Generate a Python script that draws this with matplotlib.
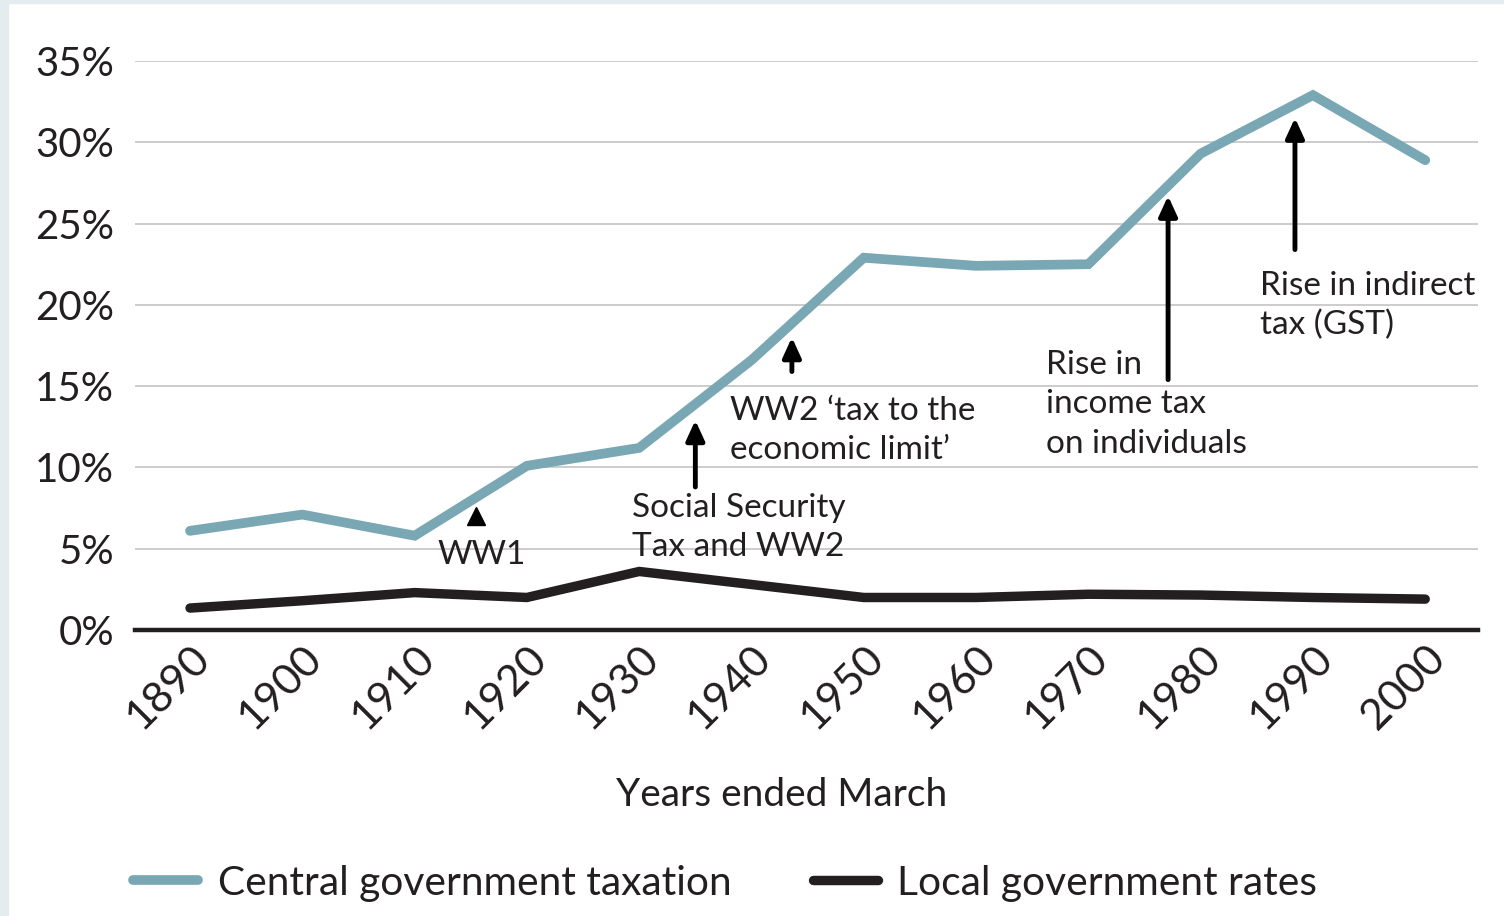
import matplotlib
matplotlib.use("Agg")
import matplotlib.pyplot as plt
from matplotlib.patches import Rectangle

plt.rcParams['font.family'] = ['Lato', 'DejaVu Sans']

years = [1890, 1900, 1910, 1920, 1930, 1940, 1950, 1960, 1970, 1980, 1990, 2000]
central = [6.1, 7.1, 5.8, 10.1, 11.2, 16.6, 22.9, 22.4, 22.5, 29.3, 32.9, 28.9]
local = [1.35, 1.8, 2.3, 2.0, 3.6, 2.8, 2.0, 2.0, 2.2, 2.15, 2.0, 1.9]
yticks = [0, 5, 10, 15, 20, 25, 30, 35]
ytick_labels = ["0%", "5%", "10%", "15%", "20%", "25%", "30%", "35%"]

BLUE = "#79a8b4"
BLACK = "#231f20"
TXT = "#231f20"

W, H = 1504, 916
fig = plt.figure(figsize=(W / 100, H / 100), dpi=100)
fig.patches.append(Rectangle((0, 0), 8 / W, 1, transform=fig.transFigure, color="#e4ecf0", zorder=0))
fig.patches.append(Rectangle((0, 1 - 3 / H), 1, 3 / H, transform=fig.transFigure, color="#e4ecf0", zorder=0))

ax = fig.add_axes([135 / W, 1 - 630 / H, (1478 - 135) / W, (630 - 61) / H])
ax.set_xlim(1885.1, 2004.7)
ax.set_ylim(0, 35)
for s in ax.spines.values():
    s.set_visible(False)
ax.set_yticks(yticks)
ax.set_yticklabels(ytick_labels, fontsize=29, color=TXT)
ax.tick_params(axis='y', length=0, pad=15)
ax.set_xticks(years)
ax.set_xticklabels([str(y) for y in years], rotation=45, ha='right', va='top',
                   rotation_mode='anchor', fontsize=31, color=TXT)
ax.tick_params(axis='x', length=0, pad=6)
ax.grid(axis='y', color='#c4c4c4', linewidth=1.2)
ax.set_axisbelow(True)
ax.axhline(0, color=BLACK, linewidth=3.2, zorder=3, clip_on=False)

ax.plot(years, central, color=BLUE, linewidth=7.0, solid_capstyle='round', solid_joinstyle='miter',
        label="Central government taxation", zorder=4)
ax.plot(years, local, color=BLACK, linewidth=6.8, solid_capstyle='round', solid_joinstyle='miter',
        label="Local government rates", zorder=4)

ax.set_xlabel("Years ended March", fontsize=28, color=TXT)
ax.xaxis.set_label_coords((782 - 135) / 1343, -(795 - 630) / 569)
ax.xaxis.label.set_va('center')

afs = 24
ls = 1.38
# WW1
ax.plot([1915.5], [7.0], marker='^', markersize=13, color='black', zorder=5)
ax.text(1916, 4.6, "WW1", fontsize=afs, ha='center', va='center', color=TXT)

arrowprops = dict(arrowstyle='-|>,head_length=1.2,head_width=0.55', color='black', lw=3.5,
                  shrinkA=0, shrinkB=0)
ax.annotate("", xy=(1935.0, 12.9), xytext=(1935.0, 8.8), arrowprops=arrowprops)
ax.text(1929.4, 8.45, "Social Security\nTax and WW2", fontsize=afs, ha='left', va='top',
        color=TXT, linespacing=ls)

ax.annotate("", xy=(1943.6, 18.0), xytext=(1943.6, 15.9), arrowprops=arrowprops)
ax.text(1938.1, 14.4, "WW2 \u2018tax to the\neconomic limit\u2019", fontsize=afs, ha='left', va='top',
        color=TXT, linespacing=ls)

ax.annotate("", xy=(1977.1, 26.7), xytext=(1977.1, 15.4), arrowprops=arrowprops)
ax.text(1966.2, 17.2, "Rise in\nincome tax\non individuals", fontsize=afs, ha='left', va='top',
        color=TXT, linespacing=ls)

ax.annotate("", xy=(1988.4, 31.5), xytext=(1988.4, 23.4), arrowprops=arrowprops)
ax.text(1985.3, 22.1, "Rise in indirect\ntax (GST)", fontsize=afs, ha='left', va='top',
        color=TXT, linespacing=ls)

leg = ax.legend(loc='center left', bbox_to_anchor=(133 / W, 1 - 883 / H), bbox_transform=fig.transFigure,
                ncol=2, frameon=False, fontsize=29.3, handlelength=1.6, handletextpad=0.48,
                columnspacing=2.0, labelcolor=TXT, borderpad=0, borderaxespad=0)

fig.savefig("out.png", dpi=100)
